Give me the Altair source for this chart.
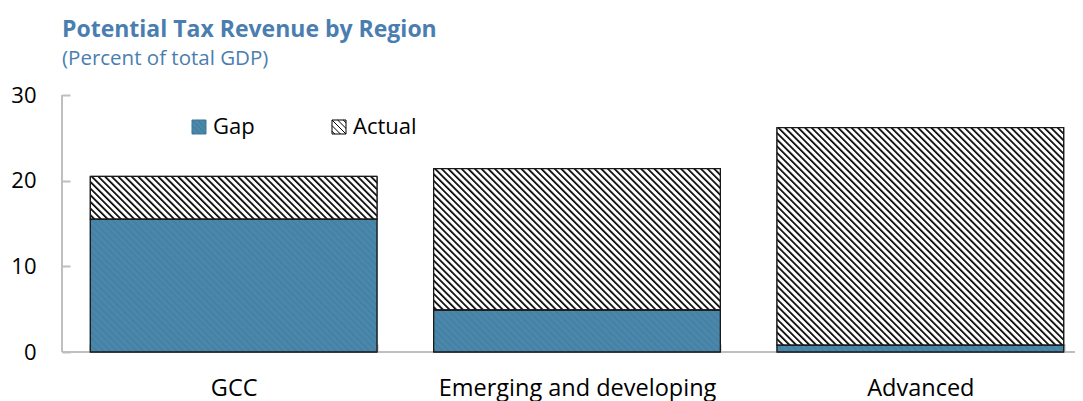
import urllib.parse
import altair as alt
import pandas as pd

# ---- data ----
regions = ["GCC", "Emerging and developing", "Advanced"]
gap = [15.5, 4.9, 0.8]
actual = [5.0, 16.5, 25.4]
series = ["Gap", "Actual"]
y_ticks = [0, 10, 20, 30]

rows = []
for r, g, a in zip(regions, gap, actual):
    rows.append({"region": r, "series": "Gap", "lo": 0.0, "hi": g})
    rows.append({"region": r, "series": "Actual", "lo": g, "hi": g + a})
df = pd.DataFrame(rows)

# ---- styles ----
FONT = "Open Sans"
BLUE = "#4a87ab"
BLUE_LINE = "#3f7898"
TITLE_BLUE = "#4a7eb0"
GRAY = "#bfbfbf"
EDGE = "#1a1a1a"


def hatch_uri(bg, fg, period, lw):
    svg = (
        "<svg xmlns='http://www.w3.org/2000/svg' width='100%' height='100%'>"
        f"<defs><pattern id='h' patternUnits='userSpaceOnUse' width='{period}' height='{period}' "
        "patternTransform='rotate(-45)'>"
        f"<rect width='{period}' height='{period}' fill='{bg}'/>"
        f"<rect width='{lw}' height='{period}' fill='{fg}'/></pattern></defs>"
        "<rect width='100%' height='100%' fill='url(#h)'/></svg>"
    )
    return "data:image/svg+xml;charset=utf-8," + urllib.parse.quote(svg)


HATCH_ACTUAL = hatch_uri("white", "black", 4.7, 1.7)
HATCH_GAP = hatch_uri(BLUE, "#437fa1", 4.7, 1.5)

# legend symbol: square with downward diagonal hatch lines
SYMBOL = (
    "M-1,-1H1V1H-1Z"
    "M-1,-1L1,1"
    "M-0.2,-1L1,0.2"
    "M-1,-0.2L0.2,1"
    "M0.6,-1L1,-0.6"
    "M-1,0.6L-0.6,1"
)

legend = alt.Legend(
    orient="none",
    legendX=126,
    legendY=21,
    direction="horizontal",
    title=None,
    symbolType=SYMBOL,
    symbolSize=196,
    symbolStrokeWidth=1,
    labelFont=FONT,
    labelFontSize=22,
    labelColor="black",
    labelOffset=3,
    columnPadding=73,
    padding=0,
)

x_enc = alt.X(
    "region:N",
    sort=regions,
    scale=alt.Scale(paddingInner=0.165, paddingOuter=0.0825, range=[0, 1030]),
    axis=alt.Axis(
        title=None,
        labelAngle=0,
        domain=False,
        grid=False,
        ticks=True,
        tickBand="extent",
        tickSize=8,
        tickWidth=2,
        tickColor=GRAY,
        offset=-8,
        labelFont=FONT,
        labelFontSize=23.5,
        labelColor="black",
        labelPadding=24,
        labelLimit=0,
    ),
)

y_scale = alt.Scale(domain=[0, 30], nice=False)
y_axis = alt.Axis(
    title=None,
    values=y_ticks,
    domain=False,
    grid=False,
    tickSize=8,
    tickWidth=2,
    tickColor=GRAY,
    offset=-8,
    labelFont=FONT,
    labelFontSize=22,
    labelColor="black",
    labelPadding=26,
)

base = alt.Chart(df).encode(x=x_enc)

hrule = alt.Chart(df).mark_rule(color=GRAY, strokeWidth=2).encode(
    y=alt.datum(0, scale=y_scale, axis=y_axis)
)
vrule = (
    alt.Chart(df)
    .transform_filter(alt.datum.series == "Gap")
    .transform_filter(alt.datum.region == regions[0])
    .mark_rule(color=GRAY, strokeWidth=2)
    .encode(x=alt.value(0))
)

bars = base.mark_bar(strokeWidth=1).encode(
    y=alt.Y("hi:Q", scale=y_scale, axis=y_axis),
    y2="lo:Q",
    color=alt.Color(
        "series:N", scale=alt.Scale(domain=series, range=[BLUE, "white"]), legend=legend
    ),
    stroke=alt.Stroke(
        "series:N", scale=alt.Scale(domain=series, range=[BLUE_LINE, "black"]), legend=legend
    ),
)

img_gap = (
    base.transform_filter(alt.datum.series == "Gap")
    .mark_image(aspect=False)
    .encode(y=alt.Y("hi:Q", scale=y_scale), y2="lo:Q", url=alt.value(HATCH_GAP))
)
img_actual = (
    base.transform_filter(alt.datum.series == "Actual")
    .mark_image(aspect=False)
    .encode(y=alt.Y("hi:Q", scale=y_scale), y2="lo:Q", url=alt.value(HATCH_ACTUAL))
)

outline = base.mark_bar(fillOpacity=0, stroke=EDGE, strokeWidth=1.3).encode(
    y=alt.Y("hi:Q", scale=y_scale), y2="lo:Q"
)

chart = (
    alt.layer(hrule, vrule, bars, img_gap, img_actual, outline)
    .properties(
        width=1013,
        height=257,
        autosize=alt.AutoSizeParams(type="none"),
        padding={"left": 54, "top": 87, "right": 0, "bottom": 49},
        title=alt.TitleParams(
            text="Potential Tax Revenue by Region",
            subtitle="(Percent of total GDP)",
            anchor="start",
            frame="group",
            font=FONT,
            fontSize=23,
            fontWeight="bold",
            color=TITLE_BLUE,
            subtitleFont=FONT,
            subtitleFontSize=20.5,
            subtitleColor=TITLE_BLUE,
            subtitlePadding=7,
            offset=15,
        ),
    )
    .configure_view(stroke=None)
)

chart.save("out.html", embed_options={"renderer": "svg", "actions": False})
